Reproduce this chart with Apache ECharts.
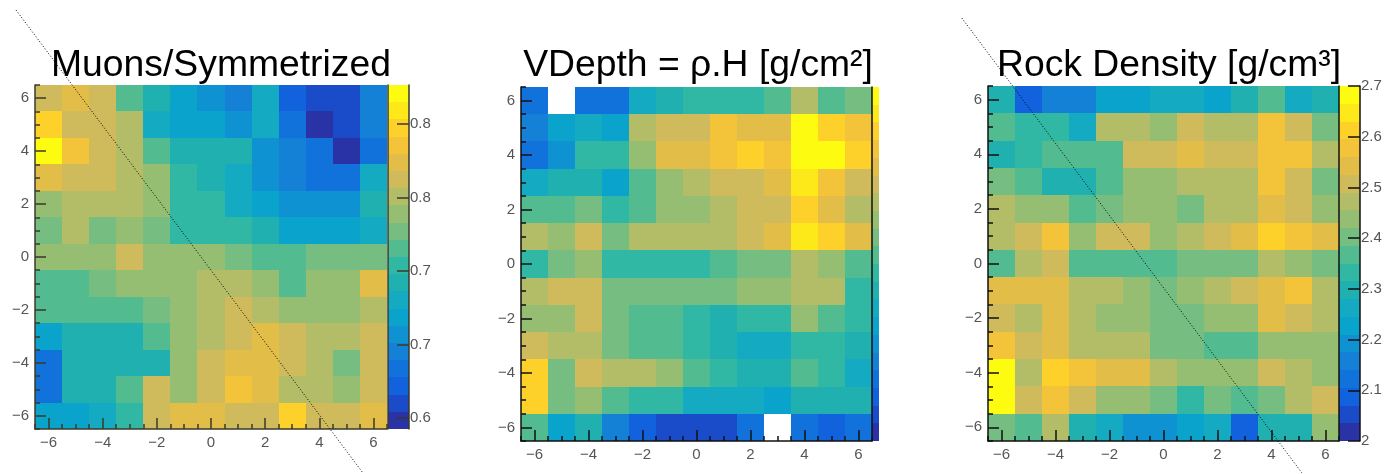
<!DOCTYPE html>
<html>
<head>
<meta charset="utf-8">
<title>Muons / VDepth / Rock Density</title>
<style>
    html, body { margin: 0; padding: 0; background: #fff; }
    #chart { width: 1385px; height: 474px; }
</style>
<script src="https://cdn.jsdelivr.net/npm/echarts@6/dist/echarts.min.js"></script>
</head>
<body>
<div id="chart"></div>
<script>
    // cell centres, rows go from y=6 at the top down to y=-6
    var xCells = [-6, -5, -4, -3, -2, -1, 0, 1, 2, 3, 4, 5, 6];
    var yCells = [6, 5, 4, 3, 2, 1, 0, -1, -2, -3, -4, -5, -6];

    var muonRows = [
        [.762, .774, .762, .715, .692, .669, .657, .645, .680, .622, .610, .610, .645],
        [.797, .762, .762, .750, .680, .669, .669, .657, .680, .633, .598, .610, .645],
        [.821, .786, .762, .750, .715, .692, .692, .692, .657, .645, .633, .598, .633],
        [.774, .762, .762, .750, .739, .704, .692, .680, .657, .645, .633, .633, .680],
        [.739, .750, .750, .750, .739, .704, .704, .680, .669, .657, .657, .657, .692],
        [.727, .750, .727, .739, .727, .704, .704, .704, .692, .669, .669, .669, .680],
        [.739, .739, .739, .762, .739, .739, .739, .727, .715, .715, .727, .727, .727],
        [.715, .715, .727, .739, .739, .739, .750, .750, .739, .715, .739, .739, .774],
        [.715, .715, .715, .715, .727, .739, .750, .762, .750, .739, .739, .739, .750],
        [.669, .692, .692, .692, .715, .739, .750, .762, .774, .762, .750, .750, .762],
        [.633, .692, .692, .692, .692, .739, .762, .774, .774, .762, .750, .727, .762],
        [.633, .692, .692, .715, .762, .739, .762, .786, .774, .750, .750, .739, .762],
        [.669, .669, .680, .704, .762, .774, .774, .762, .762, .797, .762, .762, .774]
    ];

    // no scale is printed for this panel, so values are colour steps 0..19
    var vdepthRows = [
        [3, null, 3, 3, 7, 8, 9, 9, 9, 10, 13, 10, 11],
        [4, 6, 7, 6, 13, 14, 14, 16, 15, 15, 19, 17, 16],
        [3, 5, 9, 9, 12, 15, 15, 16, 17, 16, 19, 19, 17],
        [7, 8, 8, 6, 10, 12, 13, 14, 14, 15, 18, 16, 14],
        [10, 10, 11, 9, 10, 12, 12, 13, 14, 14, 17, 15, 13],
        [13, 12, 14, 11, 13, 13, 13, 13, 14, 15, 18, 17, 15],
        [9, 11, 12, 9, 9, 9, 9, 10, 11, 11, 13, 12, 10],
        [13, 14, 14, 11, 11, 11, 11, 11, 12, 12, 13, 13, 9],
        [12, 12, 14, 11, 10, 10, 9, 8, 9, 9, 12, 10, 9],
        [14, 13, 13, 11, 10, 10, 9, 8, 7, 7, 9, 9, 8],
        [17, 11, 14, 13, 13, 12, 10, 9, 8, 8, 10, 9, 7],
        [17, 11, 12, 10, 9, 9, 7, 7, 7, 6, 8, 8, 8],
        [10, 6, 8, 4, 2, 1, 1, 1, 3, null, 3, 2, 3]
    ];

    var densityRows = [
        [2.30, 2.09, 2.16, 2.16, 2.23, 2.23, 2.26, 2.26, 2.23, 2.30, 2.37, 2.26, 2.30],
        [2.37, 2.33, 2.33, 2.26, 2.47, 2.47, 2.44, 2.51, 2.47, 2.47, 2.58, 2.51, 2.40],
        [2.30, 2.33, 2.37, 2.37, 2.37, 2.51, 2.51, 2.54, 2.51, 2.51, 2.58, 2.58, 2.47],
        [2.40, 2.37, 2.30, 2.30, 2.37, 2.44, 2.44, 2.47, 2.47, 2.47, 2.58, 2.51, 2.40],
        [2.47, 2.44, 2.44, 2.37, 2.40, 2.44, 2.44, 2.40, 2.47, 2.47, 2.54, 2.51, 2.44],
        [2.47, 2.51, 2.58, 2.44, 2.51, 2.51, 2.44, 2.47, 2.51, 2.54, 2.61, 2.58, 2.54],
        [2.37, 2.47, 2.51, 2.37, 2.37, 2.37, 2.37, 2.40, 2.40, 2.40, 2.47, 2.44, 2.40],
        [2.54, 2.54, 2.54, 2.47, 2.47, 2.44, 2.40, 2.44, 2.47, 2.51, 2.54, 2.58, 2.47],
        [2.51, 2.47, 2.54, 2.47, 2.44, 2.44, 2.40, 2.40, 2.44, 2.44, 2.54, 2.51, 2.47],
        [2.58, 2.51, 2.54, 2.47, 2.47, 2.47, 2.40, 2.40, 2.37, 2.37, 2.44, 2.44, 2.44],
        [2.68, 2.47, 2.61, 2.58, 2.54, 2.54, 2.47, 2.44, 2.44, 2.44, 2.51, 2.47, 2.44],
        [2.68, 2.51, 2.58, 2.51, 2.44, 2.44, 2.40, 2.33, 2.40, 2.37, 2.40, 2.47, 2.51],
        [2.40, 2.37, 2.47, 2.30, 2.26, 2.19, 2.19, 2.23, 2.26, 2.09, 2.30, 2.30, 2.44]
    ];

    // bird palette of the z scale, 20 steps from bottom to top
    var palette = [
        '#2a33a6', '#1a4bc8', '#1262de', '#1272dc', '#1481d6',
        '#0f92d2', '#0aa3cc', '#14abc2', '#20b0b0', '#30b8a4',
        '#52bb90', '#75bd80', '#95be72', '#b3bd68', '#cfba5c',
        '#e2bd48', '#f3c33a', '#fdd02a', '#fde81a', '#fdfc10'
    ];

    var muonRange = [0.5925, 0.8265];
    var vdepthRange = [0, 20];
    var densityRange = [2, 2.7];

    var muonTicks = [0.6, 0.65, 0.7, 0.75, 0.8];
    var muonTickLabels = ['0.6', '0.7', '0.7', '0.8', '0.8'];
    var densityTicks = [2, 2.1, 2.2, 2.3, 2.4, 2.5, 2.6, 2.7];
    var densityTickLabels = ['2', '2.1', '2.2', '2.3', '2.4', '2.5', '2.6', '2.7'];

    var axisTicks = [-6, -4, -2, 0, 2, 4, 6];
    var minorTicks = [-6.5, -6, -5.5, -5, -4.5, -4, -3.5, -3, -2.5, -2, -1.5, -1, -0.5, 0,
        0.5, 1, 1.5, 2, 2.5, 3, 3.5, 4, 4.5, 5, 5.5, 6, 6.5];

    // the dotted diagonals in axis units, they run past the frame
    var muonDiagonal = [-7.2, 9.33, 5.61, -8.16];
    var densityDiagonal = [-7.47, 8.99, 5.12, -7.66];

    var panels = [
        {
            name: 'Muons/Symmetrized', rows: muonRows, range: muonRange, ticks: muonTicks,
            tickLabels: muonTickLabels, diagonal: muonDiagonal,
            box: {left: 35, top: 85, width: 352, height: 344}, barLeft: 388, barWidth: 21,
            titleX: 221, titleTop: 47, lineColor: '#3a3a2a'
        },
        {
            name: 'VDepth = ρ.H [g/cm²]', rows: vdepthRows, range: vdepthRange, ticks: null,
            tickLabels: null, diagonal: null,
            box: {left: 521, top: 87, width: 351, height: 354}, barLeft: 872, barWidth: 7,
            titleX: 698, titleTop: 47, lineColor: '#111'
        },
        {
            name: 'Rock Density [g/cm³]', rows: densityRows, range: densityRange, ticks: densityTicks,
            tickLabels: densityTickLabels, diagonal: densityDiagonal,
            box: {left: 988, top: 86, width: 351, height: 355}, barLeft: 1339, barWidth: 21,
            titleX: 1169, titleTop: 47, lineColor: '#111'
        }
    ];

    function toCells(rows) {
        var cells = [];
        rows.forEach(function (row, r) {
            row.forEach(function (v, c) {
                if (v !== null) cells.push([xCells[c], yCells[r], v, 0.5]);
            });
        });
        return cells;
    }

    function signed(v) {
        return v < 0 ? '\u2212' + (-v) : String(v);
    }

    // rectangles come from the axis scales, edges rounded so no seams show
    function renderRect(params, api) {
        var h = api.value(3);
        var a = api.coord([api.value(0) - 0.5, api.value(1) + h]);
        var b = api.coord([api.value(0) + 0.5, api.value(1) - h]);
        var x0 = Math.round(a[0]), y0 = Math.round(a[1]);
        return {
            type: 'rect',
            shape: {x: x0, y: y0, width: Math.round(b[0]) - x0, height: Math.round(b[1]) - y0},
            style: {fill: api.visual('color')}
        };
    }

    function renderDiagonal(params, api) {
        var a = api.coord([api.value(0), api.value(1)]);
        var b = api.coord([api.value(2), api.value(3)]);
        return {
            type: 'line',
            shape: {x1: a[0], y1: a[1], x2: b[0], y2: b[1]},
            style: {stroke: '#000', lineWidth: 1, lineDash: [1, 2]}
        };
    }

    var labelFont = {color: '#555', fontSize: 15, fontFamily: 'Liberation Sans', margin: 6};

    var grids = [], xAxes = [], yAxes = [], series = [], visualMaps = [], titles = [];

    panels.forEach(function (p) {
        var step = (p.range[1] - p.range[0]) / palette.length;
        var plotGrid = grids.length;
        var barGrid = plotGrid + 1;
        grids.push(p.box);
        grids.push({left: p.barLeft, top: p.box.top, width: p.barWidth, height: p.box.height});

        var lineStyle = {color: p.lineColor, width: 1.5};

        function plotAxis(position, major) {
            return {
                type: 'value', gridIndex: plotGrid, min: -6.5, max: 6.5, position: position, z: 5,
                splitLine: {show: false},
                axisLine: {show: major, onZero: false, lineStyle: lineStyle},
                axisTick: {
                    show: true, inside: true, length: major ? 11 : 5,
                    customValues: major ? axisTicks : minorTicks, lineStyle: lineStyle
                },
                axisLabel: major
                    ? Object.assign({customValues: axisTicks, formatter: signed}, labelFont)
                    : {show: false}
            };
        }

        var plotX = xAxes.length, plotY = yAxes.length;
        xAxes.push(plotAxis('bottom', true), plotAxis('bottom', false));
        yAxes.push(plotAxis('left', true), plotAxis('left', false));

        var barX = xAxes.length, barY = yAxes.length;
        xAxes.push({type: 'value', gridIndex: barGrid, min: 0, max: 1, show: false});

        var barAxis = {
            type: 'value', gridIndex: barGrid, min: p.range[0], max: p.range[1], position: 'right', z: 5,
            splitLine: {show: false},
            axisLine: {show: p.ticks !== null, onZero: false, lineStyle: lineStyle},
            axisTick: {show: false}, axisLabel: {show: false}
        };
        if (p.ticks) {
            barAxis.axisTick = {show: true, inside: true, length: 12, customValues: p.ticks, lineStyle: lineStyle};
            barAxis.axisLabel = Object.assign({
                customValues: p.ticks,
                formatter: function (v) { return p.tickLabels[p.ticks.indexOf(v)]; }
            }, labelFont, {margin: 1});
        }
        yAxes.push(barAxis);

        // right frame of the plot is the left edge of the colour bar
        yAxes.push({
            type: 'value', gridIndex: barGrid, min: p.range[0], max: p.range[1], position: 'left', z: 5,
            splitLine: {show: false}, axisTick: {show: false}, axisLabel: {show: false},
            axisLine: {show: true, onZero: false, lineStyle: lineStyle}
        });

        var cellSeries = series.length;
        series.push({
            type: 'custom', xAxisIndex: plotX, yAxisIndex: plotY,
            renderItem: renderRect, encode: {x: 0, y: 1},
            data: toCells(p.rows), silent: true, z: 2
        });
        var steps = palette.map(function (c, i) {
            var mid = p.range[0] + (i + 0.5) * step;
            return [0.5, mid, mid, step / 2];
        });
        series.push({
            type: 'custom', xAxisIndex: barX, yAxisIndex: barY,
            renderItem: renderRect, encode: {x: 0, y: 1},
            data: steps, silent: true, z: 2
        });
        visualMaps.push({
            show: false, type: 'piecewise', dimension: 2, seriesIndex: [cellSeries, cellSeries + 1],
            pieces: palette.map(function (c, i) {
                return {gte: p.range[0] + i * step, lt: p.range[0] + (i + 1) * step, color: c};
            }),
            outOfRange: {color: '#fff'}
        });
        if (p.diagonal) {
            series.push({
                type: 'custom', xAxisIndex: plotX, yAxisIndex: plotY,
                renderItem: renderDiagonal, encode: {x: [0, 2], y: [1, 3]},
                data: [p.diagonal], silent: true, z: 10
            });
        }

        titles.push({
            text: p.name, left: p.titleX, top: p.titleTop, textAlign: 'center', z: 1,
            textStyle: {color: '#000', fontSize: 37.3, fontWeight: 'normal', fontFamily: 'Liberation Sans'},
            padding: 0
        });
    });

    var myChart = echarts.init(document.getElementById('chart'), null, {renderer: 'canvas'});
    myChart.setOption({
        backgroundColor: '#fff',
        animation: false,
        title: titles,
        grid: grids,
        xAxis: xAxes,
        yAxis: yAxes,
        visualMap: visualMaps,
        series: series
    });
</script>
</body>
</html>
